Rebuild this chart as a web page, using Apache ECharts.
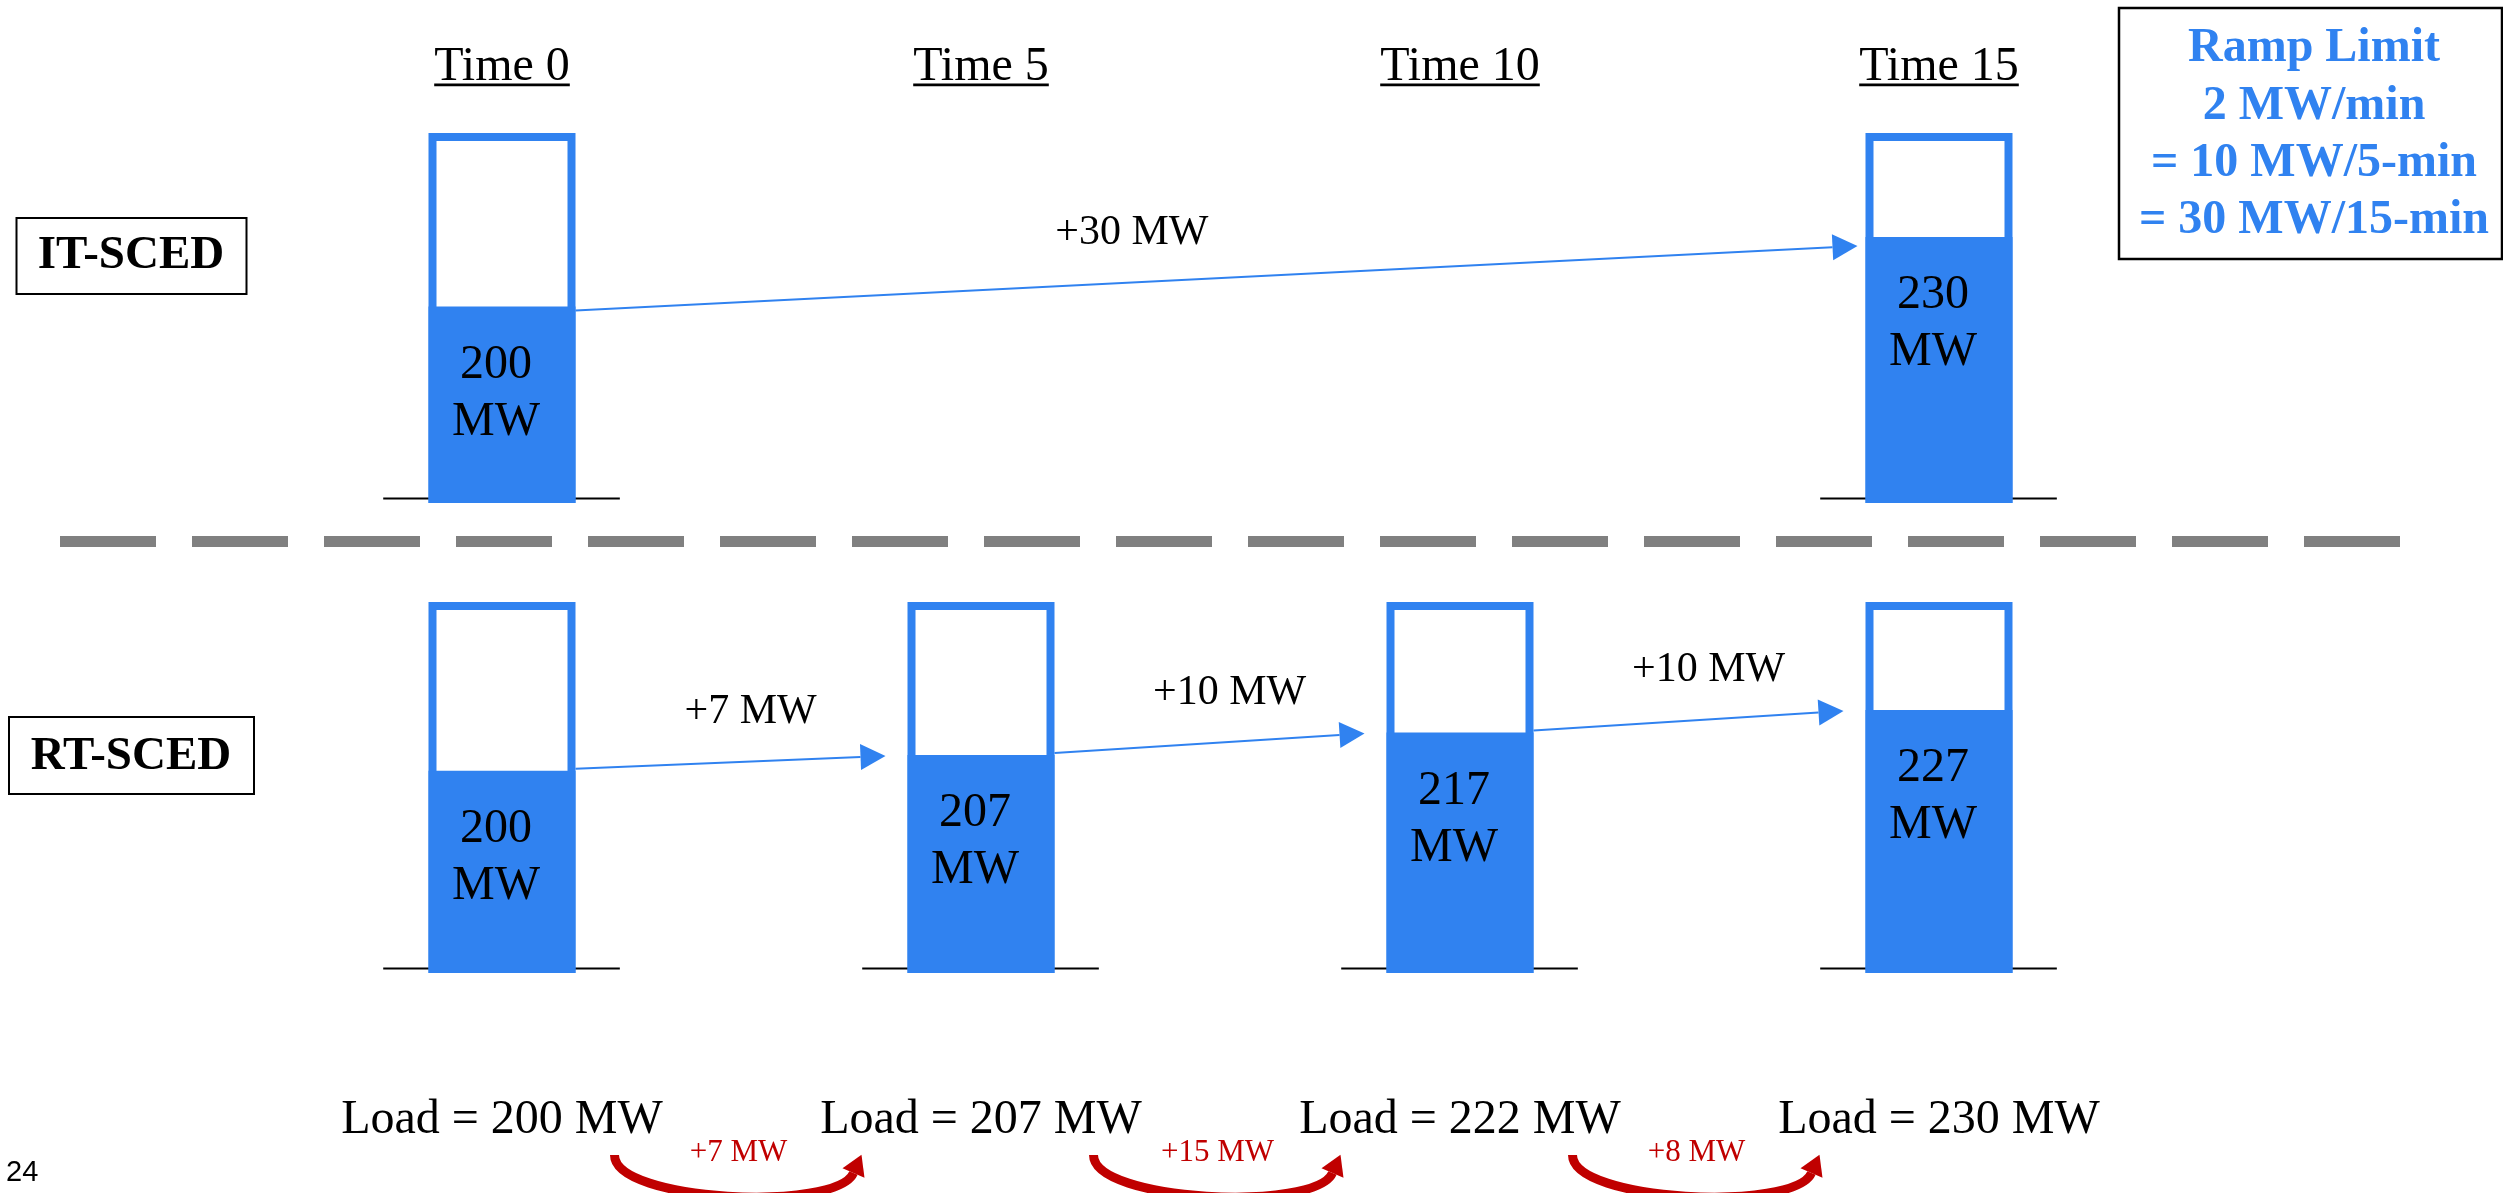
<!DOCTYPE html>
<html>
<head>
<meta charset="utf-8">
<script src="https://cdn.jsdelivr.net/npm/echarts@6/dist/echarts.min.js"></script>
<style>
html,body{margin:0;padding:0;background:#fff;}
#c{width:2503px;height:1193px;}
</style>
</head>
<body>
<div id="c"></div>
<script>
// ---------------- data ----------------
const categories = ['Time 0', 'Time 5', 'Time 10', 'Time 15'];
const itValues = [200, null, null, 230];     // IT-SCED base points (MW)
const itChanges = [30];                       // IT-SCED arrow labels (MW)
const rtValues = [200, 207, 217, 227];        // RT-SCED base points (MW)
const rtChanges = [7, 10, 10];                // RT-SCED arrow labels (MW)
const loads = [200, 207, 222, 230];           // load at each time (MW)
const loadChanges = [7, 15, 8];               // load change labels (MW)
const capacity = 275;                         // top of the unit frame (MW)
const itMin = 115;                            // IT axis minimum
const rtMin = 110;                            // RT axis minimum
const rampLines = ['Ramp Limit', '2 MW/min', '= 10 MW/5-min', '= 30 MW/15-min'];
const rowNames = ['IT-SCED', 'RT-SCED'];
const pageNumber = '24';

// ---------------- style ----------------
const BLUE = '#3082F0';
const RED = '#C00000';
const SERIF = '"Liberation Serif", "Times New Roman", serif';
const SANS = '"Liberation Sans", Arial, sans-serif';
const BAR_RATIO = 147 / 479;
const BORDER = 8;

const measureCtx = document.createElement('canvas').getContext('2d');
function textWidth(t, font) { measureCtx.font = font; return measureCtx.measureText(t).width; }

function pointsOf(values) {
  const out = [];
  values.forEach((v, i) => { if (v != null) out.push([i, v]); });
  return out;
}

function barSeries(idx, values, minVal) {
  return {
    type: 'custom', xAxisIndex: idx, yAxisIndex: idx, clip: false,
    data: pointsOf(values),
    renderItem: function (params, api) {
      const i = api.value(0), v = api.value(1);
      const base = api.coord([i, minVal]);
      const top = api.coord([i, capacity]);
      const lvl = api.coord([i, v]);
      const band = api.size([1, 0])[0];
      const w = band * BAR_RATIO;
      const x0 = base[0] - w / 2;
      return {
        type: 'group',
        children: [
          { type: 'line', shape: { x1: base[0] - band * 0.248, y1: base[1] - 4.5, x2: base[0] + band * 0.246, y2: base[1] - 4.5 },
            style: { stroke: '#000', lineWidth: 2 } },
          { type: 'rect', shape: { x: x0 + BORDER / 2, y: top[1] + BORDER / 2, width: w - BORDER, height: base[1] - top[1] - BORDER },
            style: { fill: '#fff', stroke: BLUE, lineWidth: BORDER } },
          { type: 'rect', shape: { x: x0, y: lvl[1], width: w, height: base[1] - lvl[1] },
            style: { fill: BLUE } },
          { type: 'text', x: base[0] - 6, y: lvl[1] + 87,
            style: { text: v + '\nMW', fill: '#000', font: '48px ' + SERIF, lineHeight: 57, align: 'center', verticalAlign: 'middle' } }
        ]
      };
    }
  };
}

function arrowSeries(idx, values, changes, opt) {
  const pts = pointsOf(values);
  const data = [];
  for (let k = 0; k < pts.length - 1; k++) data.push([pts[k][0], pts[k][1], pts[k + 1][0], pts[k + 1][1], changes[k]]);
  return {
    type: 'custom', xAxisIndex: idx, yAxisIndex: idx, clip: false,
    encode: { x: 0, y: 1 },
    data: data,
    renderItem: function (params, api) {
      const i0 = api.value(0), v0 = api.value(1), i1 = api.value(2), v1 = api.value(3), d = api.value(4);
      const band = api.size([1, 0])[0];
      const half = band * BAR_RATIO / 2;
      const p0 = api.coord([i0, v0]);
      const p1 = api.coord([i1, v1]);
      const sx = p0[0] + half, sy = p0[1] + opt.startDy;
      const tx = p1[0] - half - opt.gap, ty = p1[1] + opt.tipDy;
      const dx = tx - sx, dy = ty - sy, L = Math.sqrt(dx * dx + dy * dy);
      const ux = dx / L, uy = dy / L, nx = -uy, ny = ux;
      const hl = 25, hw = 13;
      const bx = tx - ux * hl, by = ty - uy * hl;
      return {
        type: 'group',
        children: [
          { type: 'line', shape: { x1: sx, y1: sy, x2: bx, y2: by }, style: { stroke: BLUE, lineWidth: 2 } },
          { type: 'polygon', shape: { points: [[tx, ty], [bx + nx * hw, by + ny * hw], [bx - nx * hw, by - ny * hw]] }, style: { fill: BLUE } },
          { type: 'text', x: sx + dx * opt.t, y: sy + dy * opt.t + opt.labelDy,
            style: { text: '+' + d + ' MW', fill: '#000', font: '42px ' + SERIF, align: 'center', verticalAlign: 'middle' } }
        ]
      };
    }
  };
}

function underlineSeries() {
  return {
    type: 'custom', xAxisIndex: 0, yAxisIndex: 0, clip: false,
    data: categories.map((c, i) => [i, capacity]),
    renderItem: function (params, api) {
      const i = api.value(0);
      const p = api.coord([i, capacity]);
      const w = textWidth(categories[i], '48px ' + SERIF);
      return { type: 'rect', shape: { x: p[0] - w / 2, y: p[1] - 49.5, width: w, height: 2.8 }, style: { fill: '#000' } };
    }
  };
}

function loadSeries() {
  return {
    type: 'custom', xAxisIndex: 1, yAxisIndex: 1, clip: false,
    data: loads.map((v, i) => [i, v]),
    renderItem: function (params, api) {
      const i = api.value(0), v = api.value(1);
      const p = api.coord([i, rtMin]);
      const children = [
        { type: 'text', x: p[0], y: p[1] + 147,
          style: { text: 'Load = ' + v + ' MW', fill: '#000', font: '48px ' + SERIF, align: 'center', verticalAlign: 'middle' } }
      ];
      if (i < loads.length - 1) {
        const q = api.coord([i + 1, rtMin]);
        const mid = (p[0] + q[0]) / 2;
        const y0 = p[1] + 182;
        const P0 = [mid - 127, y0], C1 = [mid - 127, y0 + 47], C2 = [mid + 95, y0 + 57], P3 = [mid + 112, y0 + 18];
        const ddx = P3[0] - C2[0], ddy = P3[1] - C2[1], LL = Math.sqrt(ddx * ddx + ddy * ddy);
        const ux = ddx / LL, uy = ddy / LL, nx = -uy, ny = ux;
        const tip = [P3[0] + ux * 20, P3[1] + uy * 20];
        children.push(
          { type: 'bezierCurve', shape: { x1: P0[0], y1: P0[1], cpx1: C1[0], cpy1: C1[1], cpx2: C2[0], cpy2: C2[1], x2: P3[0], y2: P3[1] },
            style: { stroke: RED, lineWidth: 9, fill: null } },
          { type: 'polygon', shape: { points: [tip, [P3[0] + nx * 12, P3[1] + ny * 12], [P3[0] - nx * 12, P3[1] - ny * 12]] },
            style: { fill: RED } },
          { type: 'text', x: mid - 3, y: p[1] + 179.5,
            style: { text: '+' + loadChanges[i] + ' MW', fill: RED, font: '31px ' + SERIF, align: 'center', verticalAlign: 'middle' } }
        );
      }
      return { type: 'group', children: children };
    }
  };
}

const chart = echarts.init(document.getElementById('c'), null, { renderer: 'canvas' });
chart.setOption({
  animation: false,
  backgroundColor: '#fff',
  grid: [
    { left: 262.5, right: 324.5, top: 133, height: 370, outerBoundsMode: 'none', containLabel: false },
    { left: 262.5, right: 324.5, top: 602, height: 371, outerBoundsMode: 'none', containLabel: false }
  ],
  xAxis: [
    { gridIndex: 0, type: 'category', data: categories, position: 'top',
      axisLine: { show: false }, axisTick: { show: false }, splitLine: { show: false },
      axisLabel: { show: true, margin: 42, color: '#000', fontSize: 48, fontFamily: SERIF, lineHeight: 48, interval: 0 } },
    { gridIndex: 1, type: 'category', data: categories, show: false }
  ],
  yAxis: [
    { gridIndex: 0, type: 'value', min: itMin, max: capacity, show: false, splitLine: { show: false } },
    { gridIndex: 1, type: 'value', min: rtMin, max: capacity, show: false, splitLine: { show: false } }
  ],
  graphic: [
    { type: 'line', shape: { x1: 60, y1: 541.5, x2: 2400, y2: 541.5 }, style: { stroke: '#808080', lineWidth: 11, lineDash: [96, 36] } },
    { type: 'rect', shape: { x: 16.5, y: 218, width: 230, height: 76 }, style: { fill: '#fff', stroke: '#000', lineWidth: 2 } },
    { type: 'text', x: 131, y: 256, style: { text: rowNames[0], fill: '#000', font: 'bold 47px ' + SERIF, align: 'center', verticalAlign: 'middle' } },
    { type: 'rect', shape: { x: 9, y: 717, width: 245, height: 77 }, style: { fill: '#fff', stroke: '#000', lineWidth: 2 } },
    { type: 'text', x: 131, y: 757, style: { text: rowNames[1], fill: '#000', font: 'bold 47px ' + SERIF, align: 'center', verticalAlign: 'middle' } },
    { type: 'rect', shape: { x: 2119, y: 8, width: 383, height: 251 }, style: { fill: '#fff', stroke: '#000', lineWidth: 2.5 } },
    { type: 'text', x: 2314, y: 135, style: { text: rampLines.join('\n'), fill: BLUE, font: 'bold 48px ' + SERIF, lineHeight: 57.3, align: 'center', verticalAlign: 'middle' } },
    { type: 'text', x: 6, y: 1173, style: { text: pageNumber, fill: '#000', font: '29px ' + SANS, align: 'left', verticalAlign: 'middle' } }
  ],
  series: [
    underlineSeries(),
    arrowSeries(0, itValues, itChanges, { startDy: 4, tipDy: 9, gap: 8, t: 0.434, labelDy: -50 }),
    barSeries(0, itValues, itMin),
    arrowSeries(1, rtValues, rtChanges, { startDy: -2, tipDy: 1, gap: 22, t: 0.565, labelDy: -49 }),
    barSeries(1, rtValues, rtMin),
    loadSeries()
  ]
});
</script>
</body>
</html>
